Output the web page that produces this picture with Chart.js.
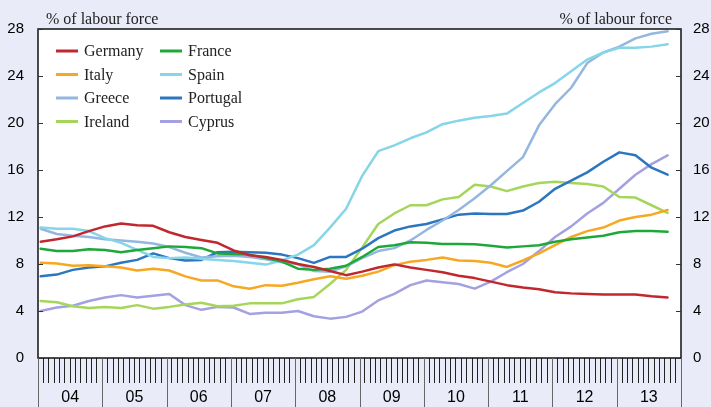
<!DOCTYPE html>
<html>
<head>
<meta charset="utf-8">
<script src="https://cdn.jsdelivr.net/npm/chart.js@4.4.0/dist/chart.umd.min.js"></script>
<style>
  html, body { margin: 0; padding: 0; background: #e9ecf8; }
</style>
</head>
<body>
<canvas id="chart" width="711" height="407"></canvas>
<script>
// year labels under the x axis
const years = ['04', '05', '06', '07', '08', '09', '10', '11', '12', '13'];
const yTicks = [0, 4, 8, 12, 16, 20, 24, 28];

// quarterly readings, Q1 2004 .. Q4 2013 (% of labour force)
const germany  = [9.9, 10.1, 10.35, 10.8, 11.2, 11.45, 11.3, 11.25, 10.7, 10.3,
                  10.05, 9.8, 9.15, 8.75, 8.6, 8.35, 8.0, 7.75, 7.4, 7.05,
                  7.35, 7.7, 7.97, 7.7, 7.5, 7.3, 7.0, 6.8, 6.5, 6.2,
                  6.0, 5.85, 5.6, 5.5, 5.45, 5.4, 5.4, 5.4, 5.25, 5.15];
const france   = [9.3, 9.1, 9.1, 9.25, 9.2, 9.0, 9.2, 9.35, 9.5, 9.45,
                  9.35, 8.9, 8.85, 8.8, 8.5, 8.2, 7.6, 7.5, 7.6, 7.85,
                  8.6, 9.45, 9.6, 9.85, 9.8, 9.7, 9.7, 9.68, 9.55, 9.4,
                  9.5, 9.6, 9.9, 10.1, 10.25, 10.4, 10.7, 10.8, 10.8, 10.75];
const italy    = [8.1, 8.05, 7.85, 7.9, 7.8, 7.7, 7.45, 7.6, 7.45, 6.95,
                  6.6, 6.6, 6.1, 5.9, 6.2, 6.15, 6.4, 6.7, 6.95, 6.75,
                  7.0, 7.35, 7.9, 8.2, 8.35, 8.55, 8.3, 8.25, 8.1, 7.75,
                  8.3, 8.9, 9.6, 10.3, 10.8, 11.1, 11.7, 12.0, 12.2, 12.6];
const spain    = [11.1, 11.0, 11.0, 10.8, 10.2, 9.8, 9.2, 8.6, 8.5, 8.55,
                  8.45, 8.35, 8.25, 8.1, 7.95, 8.3, 8.8, 9.6, 11.1, 12.7,
                  15.5, 17.6, 18.1, 18.7, 19.2, 19.9, 20.2, 20.45, 20.6, 20.8,
                  21.7, 22.6, 23.4, 24.4, 25.4, 26.0, 26.4, 26.4, 26.5, 26.7];
const greece   = [11.0, 10.55, 10.4, 10.3, 10.1, 10.0, 9.9, 9.75, 9.45, 8.96,
                  8.55, 8.65, 8.7, 8.6, 8.4, 8.15, 8.0, 7.4, 7.35, 7.8,
                  8.5, 9.1, 9.35, 10.0, 10.9, 11.7, 12.6, 13.6, 14.7, 15.9,
                  17.1, 19.8, 21.6, 23.0, 25.1, 26.0, 26.5, 27.2, 27.6, 27.8];
const portugal = [6.95, 7.1, 7.5, 7.7, 7.8, 8.1, 8.35, 8.9, 8.5, 8.3,
                  8.35, 9.0, 9.05, 9.0, 8.95, 8.8, 8.5, 8.1, 8.6, 8.6,
                  9.3, 10.2, 10.85, 11.2, 11.4, 11.8, 12.2, 12.3, 12.25, 12.25,
                  12.55, 13.3, 14.4, 15.1, 15.8, 16.7, 17.5, 17.25, 16.2, 15.6];
const ireland  = [4.85, 4.75, 4.4, 4.25, 4.35, 4.25, 4.5, 4.2, 4.35, 4.55,
                  4.7, 4.4, 4.45, 4.65, 4.65, 4.65, 5.0, 5.2, 6.3, 7.5,
                  9.4, 11.4, 12.3, 13.0, 13.0, 13.5, 13.7, 14.75, 14.6, 14.2,
                  14.6, 14.9, 15.0, 14.9, 14.8, 14.6, 13.7, 13.65, 13.0, 12.35];
const cyprus   = [4.0, 4.3, 4.45, 4.85, 5.15, 5.35, 5.15, 5.3, 5.45, 4.5,
                  4.1, 4.35, 4.3, 3.75, 3.85, 3.85, 4.0, 3.55, 3.35, 3.5,
                  3.95, 4.9, 5.45, 6.2, 6.6, 6.45, 6.3, 5.9, 6.5, 7.3,
                  8.0, 9.1, 10.3, 11.2, 12.3, 13.2, 14.4, 15.6, 16.5, 17.25];

const series = [
    { label: 'Germany',  values: germany,  color: '#c1272d' },
    { label: 'France',   values: france,   color: '#1fa83a' },
    { label: 'Italy',    values: italy,    color: '#f7a823' },
    { label: 'Spain',    values: spain,    color: '#86d5e8' },
    { label: 'Greece',   values: greece,   color: '#94b7e0' },
    { label: 'Portugal', values: portugal, color: '#2b76bf' },
    { label: 'Ireland',  values: ireland,  color: '#a5d65b' },
    { label: 'Cyprus',   values: cyprus,   color: '#a4a1e2' }
];

const SANS = '"Liberation Sans", Arial, sans-serif';
const SERIF = '"Liberation Serif", "Times New Roman", serif';
Chart.defaults.font.family = SANS;

// x axis runs in months since Jan 2004; a quarter sits at its middle month
const monthOf = i => 0.5 + 3 * i;

const decor = {
    id: 'decor',
    beforeDraw(chart) {
        const c = chart.ctx, a = chart.chartArea;
        c.save();
        c.fillStyle = '#e9ecf8';
        c.fillRect(0, 0, chart.width, chart.height);
        c.fillStyle = '#ffffff';
        c.fillRect(a.left, a.top, a.right - a.left, a.bottom - a.top);
        c.restore();
    },
    afterDraw(chart) {
        const c = chart.ctx, a = chart.chartArea;
        const x = chart.scales.x, y = chart.scales.y;
        c.save();

        // frame
        c.strokeStyle = '#111';
        c.lineWidth = 1.5;
        c.strokeRect(a.left, a.top, a.right - a.left, a.bottom - a.top);

        // inward y ticks on both sides
        c.lineWidth = 1;
        c.strokeStyle = '#333';
        yTicks.forEach(v => {
            const py = Math.round(y.getPixelForValue(v)) + 0.5;
            c.beginPath();
            c.moveTo(a.left, py); c.lineTo(a.left + 5, py);
            c.moveTo(a.right - 5, py); c.lineTo(a.right, py);
            c.stroke();
        });

        // year separators
        c.strokeStyle = '#666';
        for (let i = 0; i <= years.length; i++) {
            const px = Math.round(x.getPixelForValue(i * 12)) + 0.5;
            c.beginPath();
            c.moveTo(px, a.bottom);
            c.lineTo(px, chart.height);
            c.stroke();
        }

        // axis captions
        c.fillStyle = '#222';
        c.font = '16px ' + SERIF;
        c.textBaseline = 'alphabetic';
        c.textAlign = 'left';
        c.fillText('% of labour force', a.left + 8, 24);
        c.textAlign = 'right';
        c.fillText('% of labour force', a.right - 9, 24);

        // legend, two columns
        c.textAlign = 'left';
        c.textBaseline = 'middle';
        chart.data.datasets.forEach((ds, i) => {
            const lx = a.left + (i % 2 ? 122 : 18);
            const ly = a.top + 22 + Math.floor(i / 2) * 23.5;
            c.strokeStyle = ds.borderColor;
            c.lineWidth = 3;
            c.beginPath();
            c.moveTo(lx, ly); c.lineTo(lx + 22, ly);
            c.stroke();
            c.fillStyle = '#222';
            c.fillText(ds.label, lx + 28, ly + 1);
        });
        c.restore();
    }
};

new Chart(document.getElementById('chart'), {
    type: 'line',
    data: {
        datasets: series.map(s => ({
            label: s.label,
            data: s.values.map((v, i) => ({ x: monthOf(i), y: v })),
            borderColor: s.color,
            backgroundColor: s.color,
            borderWidth: 2.5,
            pointRadius: 0,
            borderJoinStyle: 'round',
            borderCapStyle: 'round',
            tension: 0
        }))
    },
    options: {
        responsive: false,
        animation: false,
        layout: { padding: { top: 29, left: 0, right: 0, bottom: 0 } },
        plugins: { legend: { display: false }, tooltip: { enabled: false } },
        scales: {
            x: {
                type: 'linear',
                min: 0,
                max: 120,
                afterFit: s => { s.height = 49; },
                border: { display: false },
                grid: {
                    drawOnChartArea: false,
                    tickLength: 25,
                    lineWidth: 1,
                    color: ctx => (ctx.tick && ctx.tick.value % 12 === 0) ? 'rgba(0,0,0,0)' : '#222'
                },
                ticks: {
                    stepSize: 1,
                    autoSkip: false,
                    maxRotation: 0,
                    minRotation: 0,
                    padding: 5,
                    color: '#000',
                    font: { family: SANS, size: 16 },
                    callback: v => (v % 12 === 6 ? years[(v - 6) / 12] : '')
                }
            },
            y: {
                position: 'left',
                min: 0,
                max: 28,
                afterFit: s => { s.width = 38; },
                border: { display: false },
                grid: { display: false, drawTicks: false },
                ticks: {
                    stepSize: 4,
                    padding: 14,
                    color: '#000',
                    font: { family: SANS, size: 15 }
                }
            },
            y2: {
                position: 'right',
                min: 0,
                max: 28,
                afterFit: s => { s.width = 30; },
                border: { display: false },
                grid: { display: false, drawTicks: false },
                ticks: {
                    stepSize: 4,
                    padding: 12,
                    color: '#000',
                    font: { family: SANS, size: 15 }
                }
            }
        }
    },
    plugins: [decor]
});
</script>
</body>
</html>
